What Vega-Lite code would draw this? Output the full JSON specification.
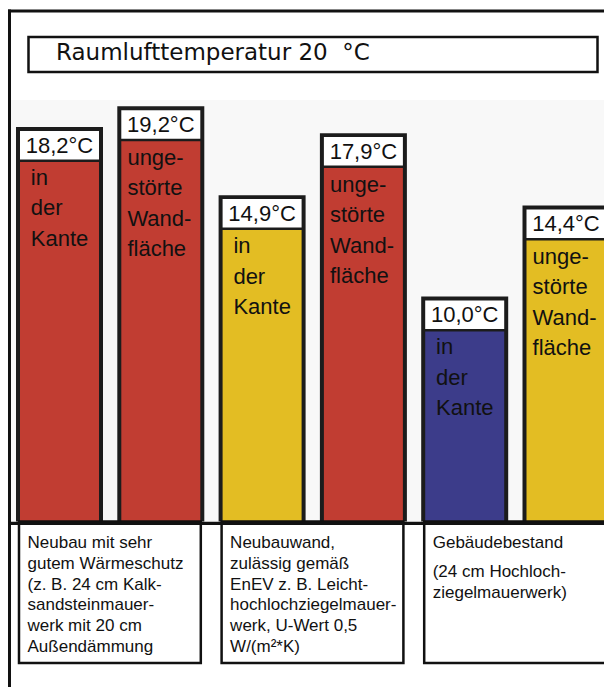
{
  "$schema": "https://vega.github.io/schema/vega-lite/v6.json",
  "width": 604,
  "height": 687,
  "autosize": "none",
  "padding": 0,
  "background": "white",
  "config": {"view": {"stroke": null}, "axis": {"disable": true}, "scale": {"continuousPadding": 0}},
  "datasets": {
    "saeulen": [
      {"nr": 1, "temp": 18.2, "label": "18,2°C", "ort": "Kante", "text": "in\nder\nKante"},
      {"nr": 2, "temp": 19.2, "label": "19,2°C", "ort": "Wand", "text": "unge-\nstörte\nWand-\nfläche"},
      {"nr": 3, "temp": 14.9, "label": "14,9°C", "ort": "Kante", "text": "in\nder\nKante"},
      {"nr": 4, "temp": 17.9, "label": "17,9°C", "ort": "Wand", "text": "unge-\nstörte\nWand-\nfläche"},
      {"nr": 5, "temp": 10.0, "label": "10,0°C", "ort": "Kante", "text": "in\nder\nKante"},
      {"nr": 6, "temp": 14.4, "label": "14,4°C", "ort": "Wand", "text": "unge-\nstörte\nWand-\nfläche"}
    ],
    "gruppen": [
      {"von": 1, "bis": 2, "absatz": 1, "text": "Neubau mit sehr\ngutem Wärmeschutz\n(z. B. 24 cm Kalk-\nsandsteinmauer-\nwerk mit 20 cm\nAußendämmung"},
      {"von": 3, "bis": 4, "absatz": 1, "text": "Neubauwand,\nzulässig gemäß\nEnEV z. B. Leicht-\nhochlochziegelmauer-\nwerk, U-Wert 0,5\nW/(m²*K)"},
      {"von": 5, "bis": 6, "absatz": 1, "text": "Gebäudebestand"},
      {"von": 5, "bis": 6, "absatz": 2, "text": "(24 cm Hochloch-\nziegelmauerwerk)"}
    ]
  },
  "layer": [
    {
      "data": {"values": [{}]},
      "mark": {"type": "rect", "color": "#f8f8f8"},
      "encoding": {
        "x": {"datum": 0.51, "type": "quantitative", "scale": {"domain": [0.41264, 6.37512], "nice": false, "zero": false, "padding": 0}},
        "x2": {"datum": 6.37512},
        "y": {"datum": 20.4, "type": "quantitative", "scale": {"domain": [-8.002, 25.235], "nice": false, "zero": false, "padding": 0}},
        "y2": {"datum": 0}
      }
    },
    {
      "data": {"values": [{}]},
      "mark": {"type": "rule", "color": "#111111", "strokeWidth": 3},
      "encoding": {
        "x": {"datum": 0.49161, "type": "quantitative", "scale": {"domain": [0.41264, 6.37512], "nice": false, "zero": false, "padding": 0}},
        "x2": {"datum": 6.37512},
        "y": {"datum": 24.70, "type": "quantitative", "scale": {"domain": [-8.002, 25.235], "nice": false, "zero": false, "padding": 0}}
      }
    },
    {
      "data": {"values": [{}]},
      "mark": {"type": "rule", "color": "#111111", "strokeWidth": 3},
      "encoding": {
        "x": {"datum": 0.50642, "type": "quantitative", "scale": {"domain": [0.41264, 6.37512], "nice": false, "zero": false, "padding": 0}},
        "y": {"datum": 24.77, "type": "quantitative", "scale": {"domain": [-8.002, 25.235], "nice": false, "zero": false, "padding": 0}},
        "y2": {"datum": -8.002}
      }
    },
    {
      "data": {"values": [{}]},
      "mark": {"type": "rect", "fill": "white", "stroke": "#111111", "strokeWidth": 2.5},
      "encoding": {
        "x": {"datum": 0.69398, "type": "quantitative", "scale": {"domain": [0.41264, 6.37512], "nice": false, "zero": false, "padding": 0}},
        "x2": {"datum": 6.31096},
        "y": {"datum": 23.444, "type": "quantitative", "scale": {"domain": [-8.002, 25.235], "nice": false, "zero": false, "padding": 0}},
        "y2": {"datum": 21.751}
      }
    },
    {
      "data": {"values": [{}]},
      "mark": {"type": "text", "align": "left", "baseline": "alphabetic", "font": "DejaVu Sans", "fontSize": 23, "color": "#111111"},
      "encoding": {
        "x": {"datum": 0.96545, "type": "quantitative", "scale": {"domain": [0.41264, 6.37512], "nice": false, "zero": false, "padding": 0}},
        "y": {"datum": 22.356, "type": "quantitative", "scale": {"domain": [-8.002, 25.235], "nice": false, "zero": false, "padding": 0}},
        "text": {"value": "Raumlufttemperatur 20\u00a0 °C"}
      }
    },
    {
      "data": {"name": "saeulen"},
      "mark": {"type": "bar", "width": 87, "color": "#1c1c1c", "yOffset": -18.4},
      "encoding": {
        "x": {"field": "nr", "type": "quantitative", "axis": null, "scale": {"domain": [0.41264, 6.37512], "nice": false, "zero": false, "padding": 0}},
        "y": {"field": "temp", "type": "quantitative", "axis": null, "scale": {"domain": [-8.002, 25.235], "nice": false, "zero": false, "padding": 0}},
        "y2": {"datum": 0}
      }
    },
    {
      "data": {"name": "saeulen"},
      "mark": {"type": "bar", "width": 79, "color": "white", "yOffset": -14.5, "y2Offset": 14},
      "encoding": {
        "x": {"field": "nr", "type": "quantitative", "axis": null, "scale": {"domain": [0.41264, 6.37512], "nice": false, "zero": false, "padding": 0}},
        "y": {"field": "temp", "type": "quantitative", "axis": null, "scale": {"domain": [-8.002, 25.235], "nice": false, "zero": false, "padding": 0}},
        "y2": {"field": "temp"}
      }
    },
    {
      "data": {"name": "saeulen"},
      "mark": {"type": "bar", "width": 79, "yOffset": 16.5},
      "encoding": {
        "x": {"field": "nr", "type": "quantitative", "axis": null, "scale": {"domain": [0.41264, 6.37512], "nice": false, "zero": false, "padding": 0}},
        "y": {"field": "temp", "type": "quantitative", "axis": null, "scale": {"domain": [-8.002, 25.235], "nice": false, "zero": false, "padding": 0}},
        "y2": {"datum": 0},
        "color": {"field": "temp", "type": "quantitative", "legend": null, "scale": {"type": "threshold", "domain": [12, 16], "range": ["#3c3c8a", "#e3bd23", "#c13d32"]}}
      }
    },
    {
      "data": {"name": "saeulen"},
      "mark": {"type": "text", "align": "center", "baseline": "alphabetic", "dy": 7.5, "font": "Liberation Sans", "fontSize": 22, "color": "#111111"},
      "encoding": {
        "x": {"field": "nr", "type": "quantitative", "axis": null, "scale": {"domain": [0.41264, 6.37512], "nice": false, "zero": false, "padding": 0}},
        "y": {"field": "temp", "type": "quantitative", "axis": null, "scale": {"domain": [-8.002, 25.235], "nice": false, "zero": false, "padding": 0}},
        "text": {"field": "label"}
      }
    },
    {
      "data": {"name": "saeulen"},
      "transform": [{"filter": "datum.ort === 'Kante'"}],
      "mark": {"type": "text", "align": "left", "baseline": "alphabetic", "dx": -28.7, "dy": 39.5, "lineBreak": "\n", "lineHeight": 30.5, "font": "Liberation Sans", "fontSize": 22, "color": "#111111"},
      "encoding": {
        "x": {"field": "nr", "type": "quantitative", "axis": null, "scale": {"domain": [0.41264, 6.37512], "nice": false, "zero": false, "padding": 0}},
        "y": {"field": "temp", "type": "quantitative", "axis": null, "scale": {"domain": [-8.002, 25.235], "nice": false, "zero": false, "padding": 0}},
        "text": {"field": "text"}
      }
    },
    {
      "data": {"name": "saeulen"},
      "transform": [{"filter": "datum.ort === 'Wand'"}],
      "mark": {"type": "text", "align": "left", "baseline": "alphabetic", "dx": -33.4, "dy": 40, "lineBreak": "\n", "lineHeight": 30.5, "font": "Liberation Sans", "fontSize": 22, "color": "#111111"},
      "encoding": {
        "x": {"field": "nr", "type": "quantitative", "axis": null, "scale": {"domain": [0.41264, 6.37512], "nice": false, "zero": false, "padding": 0}},
        "y": {"field": "temp", "type": "quantitative", "axis": null, "scale": {"domain": [-8.002, 25.235], "nice": false, "zero": false, "padding": 0}},
        "text": {"field": "text"}
      }
    },
    {
      "data": {"name": "gruppen"},
      "transform": [{"filter": "datum.absatz === 1"}],
      "mark": {"type": "rect", "fill": "white", "stroke": "#111111", "strokeWidth": 2.5, "xOffset": -40.5, "x2Offset": 40, "y2Offset": 141.5},
      "encoding": {
        "x": {"field": "von", "type": "quantitative", "axis": null, "scale": {"domain": [0.41264, 6.37512], "nice": false, "zero": false, "padding": 0}},
        "x2": {"field": "bis"},
        "y": {"datum": 0, "type": "quantitative", "scale": {"domain": [-8.002, 25.235], "nice": false, "zero": false, "padding": 0}},
        "y2": {"datum": 0}
      }
    },
    {
      "data": {"values": [{}]},
      "mark": {"type": "rule", "color": "#111111", "strokeWidth": 3.3},
      "encoding": {
        "x": {"datum": 0.50642, "type": "quantitative", "scale": {"domain": [0.41264, 6.37512], "nice": false, "zero": false, "padding": 0}},
        "x2": {"datum": 6.37512},
        "y": {"datum": -0.082, "type": "quantitative", "scale": {"domain": [-8.002, 25.235], "nice": false, "zero": false, "padding": 0}}
      }
    },
    {
      "data": {"name": "gruppen"},
      "transform": [{"filter": "datum.absatz === 1"}],
      "mark": {"type": "text", "align": "left", "baseline": "alphabetic", "dx": -32, "dy": 26.4, "lineBreak": "\n", "lineHeight": 20.8, "font": "Liberation Sans", "fontSize": 17, "color": "#111111"},
      "encoding": {
        "x": {"field": "von", "type": "quantitative", "axis": null, "scale": {"domain": [0.41264, 6.37512], "nice": false, "zero": false, "padding": 0}},
        "y": {"datum": 0, "type": "quantitative", "scale": {"domain": [-8.002, 25.235], "nice": false, "zero": false, "padding": 0}},
        "text": {"field": "text"}
      }
    },
    {
      "data": {"name": "gruppen"},
      "transform": [{"filter": "datum.absatz === 2"}],
      "mark": {"type": "text", "align": "left", "baseline": "alphabetic", "dx": -32, "dy": 55.4, "lineBreak": "\n", "lineHeight": 20.8, "font": "Liberation Sans", "fontSize": 17, "color": "#111111"},
      "encoding": {
        "x": {"field": "von", "type": "quantitative", "axis": null, "scale": {"domain": [0.41264, 6.37512], "nice": false, "zero": false, "padding": 0}},
        "y": {"datum": 0, "type": "quantitative", "scale": {"domain": [-8.002, 25.235], "nice": false, "zero": false, "padding": 0}},
        "text": {"field": "text"}
      }
    }
  ]
}
